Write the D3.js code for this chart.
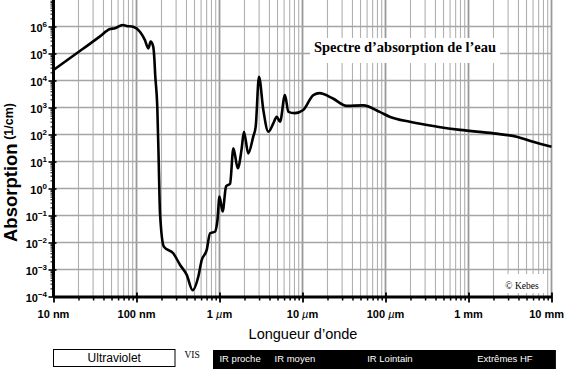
<!DOCTYPE html>
<html><head><meta charset="utf-8">
<script src="https://cdn.jsdelivr.net/npm/d3@7"></script>
<style>body{margin:0;background:#fff}svg{display:block}</style>
</head><body>
<svg id="c" width="565" height="372"></svg>
<script>
// ---- data (wavelength in nm, absorption coefficient in 1/cm) ----
const wavelengthNm = [10, 22, 36, 48, 55, 68, 76, 91, 110, 126, 139, 148, 159, 164, 168, 178, 185, 192, 214, 277, 334, 403, 475,
  555, 610, 700, 770, 880, 945, 1000, 1090, 1200, 1340, 1470, 1660, 1850, 1970, 2220, 2550, 2730, 2990, 3370, 3880, 4450, 4890,
  5360, 6150, 6750, 8100, 10200, 13500, 16000, 23000, 34000, 54000, 85000, 112000, 196000, 420000, 790000, 2000000, 3800000,
  6000000, 10000000];
const absorption = [2.45e4, 1.4e5, 4.2e5, 8.1e5, 8.6e5, 1.14e6, 1.05e6, 9.8e5, 6.4e5, 3.2e5, 1.55e5, 2.75e5, 1.8e5, 6.6e4, 1.6e4,
  1.07e3, 11.5, 0.12, 6.9e-3, 4e-3, 1.5e-3, 6.3e-4, 1.7e-4,
  5.4e-4, 2.2e-3, 5.2e-3, 0.022, 0.025, 0.068, 0.5, 0.14, 1.2, 1.5, 31, 5.6, 30, 127, 20, 83, 195, 1.38e4, 820, 127, 257, 457,
  295, 2.9e3, 690, 620, 810, 2.9e3, 3.4e3, 2.2e3, 1.15e3, 1.2e3, 690, 457, 295, 195, 148, 110, 83, 54, 35];

const xTickValuesNm = [10, 100, 1000, 1e4, 1e5, 1e6, 1e7];
const xTickNumbers = ["10", "100", "1", "10", "100", "1", "10"];
const xTickUnits = ["nm", "nm", "µm", "µm", "µm", "mm", "mm"];
const yTickExponents = [-4, -3, -2, -1, 0, 1, 2, 3, 4, 5, 6];

const titleText = "Spectre d\u2019absorption de l\u2019eau";
const creditText = "© Kebes";
const xTitle = "Longueur d\u2019onde";
const yTitleMain = "Absorption";
const yTitleUnit = " (1/cm)";

const uvBandNm = [10, 291];
const visLabelNm = 467;
const irBandNm = [835, 1.13e7];
const irLabels = ["IR proche", "IR moyen", "IR Lointain", "Extrêmes HF"];
const irLabelCentersNm = [1770, 8100, 113000, 2750000];

// ---- scales ----
const svg = d3.select("#c");
const x = d3.scaleLog().domain([10, 1e7]).range([53.5, 551.5]);
const y = d3.scaleLog().domain([1e-4, 1e7]).range([296.5, -0.5]);
const sans = "'Liberation Sans', Arial, Helvetica, sans-serif";
const serif = "'Liberation Serif', 'Times New Roman', serif";

// minor values
const xMinor = [];
for (let d = 10; d < 1e7; d *= 10) for (let k = 1; k <= 9; k++) xMinor.push(d * k);
xMinor.push(1e7);
const yMinor = [];
for (let e = -4; e < 7; e++) for (let k = 1; k <= 9; k++) yMinor.push(k * Math.pow(10, e));

// ---- grid ----
const grid = svg.append("g");
grid.selectAll("line.vx").data(xMinor).join("line")
  .attr("x1", d => x(d)).attr("x2", d => x(d)).attr("y1", 0).attr("y2", y(1e-4))
  .attr("stroke", d => xTickValuesNm.includes(d) ? "#999" : "#b0b0b0")
  .attr("stroke-width", d => xTickValuesNm.includes(d) ? 1.8 : 1.1);
grid.selectAll("line.hy").data(yTickExponents.slice(1).map(e => Math.pow(10, e))).join("line")
  .attr("x1", x(10)).attr("x2", x(1e7)).attr("y1", d => y(d)).attr("y2", d => y(d))
  .attr("stroke", "#a5a5a5").attr("stroke-width", 1.6);

// white label boxes
svg.append("rect").attr("x", 310).attr("y", 38).attr("width", 190).attr("height", 25).attr("fill", "#fff");
svg.append("rect").attr("x", 499).attr("y", 274).attr("width", 48).attr("height", 19).attr("fill", "#fff");

svg.append("text").attr("x", 405).attr("y", 52).attr("text-anchor", "middle")
  .attr("font-family", serif).attr("font-weight", "bold").attr("font-size", 14.5).text(titleText);
svg.append("text").attr("x", 522).attr("y", 289).attr("text-anchor", "middle")
  .attr("font-family", serif).attr("font-size", 9.5).text(creditText);

// ---- curve ----
const pts = wavelengthNm.map((w, i) => [w, absorption[i]]);
svg.append("path").datum(pts)
  .attr("d", d3.line().x(d => x(d[0])).y(d => y(d[1])).curve(d3.curveMonotoneX))
  .attr("fill", "none").attr("stroke", "#000").attr("stroke-width", 2.6).attr("stroke-linejoin", "round");

// ---- axes ----
const xMinorAxis = d3.axisBottom(x).tickValues(xMinor.filter(v => !xTickValuesNm.includes(v))).tickSize(4).tickFormat("").tickSizeOuter(0);
svg.append("g").attr("transform", "translate(0,296.5)").call(xMinorAxis)
  .call(g => g.select(".domain").remove())
  .call(g => g.selectAll(".tick line").attr("stroke", "#000").attr("stroke-width", 1.5));
const xMajorAxis = d3.axisBottom(x).tickValues(xTickValuesNm).tickSize(6).tickFormat("").tickSizeOuter(0);
svg.append("g").attr("transform", "translate(0,296.5)").call(xMajorAxis)
  .call(g => g.select(".domain").attr("stroke", "#000").attr("stroke-width", 3))
  .call(g => g.selectAll(".tick line").attr("stroke", "#000").attr("stroke-width", 1.8).attr("y1", -4));

const yMinorAxis = d3.axisLeft(y).tickValues(yMinor.filter(v => !yTickExponents.some(e => Math.abs(Math.pow(10, e) - v) < v * 1e-9)))
  .tickSize(3).tickFormat("").tickSizeOuter(0);
svg.append("g").attr("transform", "translate(53.5,0)").call(yMinorAxis)
  .call(g => g.select(".domain").remove())
  .call(g => g.selectAll(".tick line").attr("stroke", "#000").attr("stroke-width", 1));
const yMajorAxis = d3.axisLeft(y).tickValues(yTickExponents.map(e => Math.pow(10, e))).tickSize(5).tickFormat("").tickSizeOuter(0);
svg.append("g").attr("transform", "translate(53.5,0)").call(yMajorAxis)
  .call(g => g.select(".domain").attr("stroke", "#000").attr("stroke-width", 3).attr("d", "M0,0V297"))
  .call(g => g.selectAll(".tick line").attr("stroke", "#000").attr("stroke-width", 1.6).attr("x1", 3));

// y tick labels with superscripts
const yl = svg.append("g").attr("font-family", sans).attr("font-weight", "bold").attr("fill", "#000");
yTickExponents.forEach(e => {
  const t = yl.append("text").attr("x", 47).attr("y", y(Math.pow(10, e)) + 5).attr("text-anchor", "end").attr("font-size", 11);
  t.append("tspan").text("10");
  t.append("tspan").attr("dy", -5).attr("font-size", 8).text(e < 0 ? "\u2212" + (-e) : String(e));
});

// x tick labels
const xl = svg.append("g").attr("font-family", sans).attr("font-weight", "bold").attr("font-size", 11);
xTickValuesNm.forEach((v, i) => {
  const last = i === xTickValuesNm.length - 1;
  const t = xl.append("text").attr("x", last ? 564 : x(v)).attr("y", 318).attr("text-anchor", last ? "end" : "middle");
  t.append("tspan").text(xTickNumbers[i] + " ");
  if (xTickUnits[i] === "µm") {
    t.append("tspan").attr("font-style", "italic").attr("font-weight", "normal").text("µ");
    t.append("tspan").text("m");
  } else t.append("tspan").text(xTickUnits[i]);
});

// axis titles
svg.append("text").attr("x", 303).attr("y", 339).attr("text-anchor", "middle")
  .attr("font-family", sans).attr("font-size", 14.5).text(xTitle);
const yt = svg.append("text").attr("transform", "translate(17,242) rotate(-90)")
  .attr("font-family", sans).attr("font-weight", "bold");
yt.append("tspan").attr("font-size", 18.5).text(yTitleMain);
yt.append("tspan").attr("font-size", 12.5).attr("dy", -4).text(yTitleUnit);

// ---- spectral bands ----
svg.append("rect").attr("x", x(uvBandNm[0])).attr("y", 349.5).attr("width", x(uvBandNm[1]) - x(uvBandNm[0])).attr("height", 17)
  .attr("fill", "#fff").attr("stroke", "#000").attr("stroke-width", 1);
svg.append("text").attr("x", (x(uvBandNm[0]) + x(uvBandNm[1])) / 2).attr("y", 362).attr("text-anchor", "middle")
  .attr("font-family", sans).attr("font-size", 12).text("Ultraviolet");
svg.append("text").attr("x", x(visLabelNm)).attr("y", 358).attr("text-anchor", "middle")
  .attr("font-family", serif).attr("font-size", 9.5).text("VIS");
svg.append("rect").attr("x", x(irBandNm[0])).attr("y", 350).attr("width", x(irBandNm[1]) - x(irBandNm[0])).attr("height", 19)
  .attr("fill", "#000");
irLabels.forEach((l, i) => {
  svg.append("text").attr("x", x(irLabelCentersNm[i])).attr("y", 362).attr("text-anchor", "middle")
    .attr("font-family", sans).attr("font-size", 9.5).attr("fill", "#fff").text(l);
});
</script>
</body></html>
